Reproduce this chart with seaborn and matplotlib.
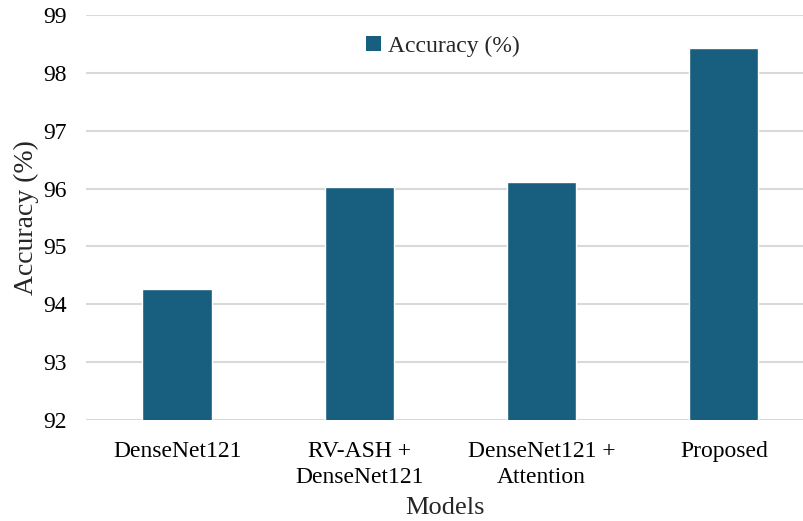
import matplotlib
matplotlib.use("Agg")
import matplotlib.pyplot as plt
import seaborn as sns
import pandas as pd
from matplotlib.patches import Patch

models = ["DenseNet121", "RV-ASH +\nDenseNet121", "DenseNet121 +\nAttention", "Proposed"]
accuracy = [94.27, 96.02, 96.11, 98.43]
y_ticks = [92, 93, 94, 95, 96, 97, 98, 99]

df = pd.DataFrame({"Models": models, "Accuracy (%)": accuracy})

sns.set_theme(style="white")
plt.rcParams["font.family"] = ["Liberation Serif", "DejaVu Serif"]

bar_color = "#175E7F"
fig = plt.figure(figsize=(8.04, 5.21), dpi=100)
ax = fig.add_axes([86 / 804, 1 - 420 / 521, 1 - 86 / 804, (420 - 15) / 521])

sns.barplot(data=df, x="Models", y="Accuracy (%)", color=bar_color,
            width=0.38, ax=ax, zorder=3, saturation=1)

ax.set_ylim(92, 99)
ax.set_xlim(-0.5, 3.44)
ax.set_yticks(y_ticks)
ax.set_yticklabels([str(t) for t in y_ticks])
ax.yaxis.grid(True, color="#d9d9d9", linewidth=1.5, zorder=0)
ax.set_axisbelow(True)
for s in ax.spines.values():
    s.set_visible(False)
ax.tick_params(axis="both", length=0, labelsize=17, colors="#000000")
ax.tick_params(axis="y", pad=14)
ax.tick_params(axis="x", pad=15)
for lbl in ax.get_xticklabels():
    lbl.set_linespacing(1.35)
ax.set_xlabel("Models", fontsize=19, labelpad=6)
ax.set_ylabel("Accuracy (%)", fontsize=20, labelpad=3)

handle = Patch(facecolor=bar_color, edgecolor="none")
ax.legend([handle], ["Accuracy (%)"], loc="center", bbox_to_anchor=(0.497, 0.922),
          frameon=False, fontsize=17, handlelength=0.6, handleheight=0.6,
          handletextpad=0.3)

fig.savefig("out.png", dpi=100)
